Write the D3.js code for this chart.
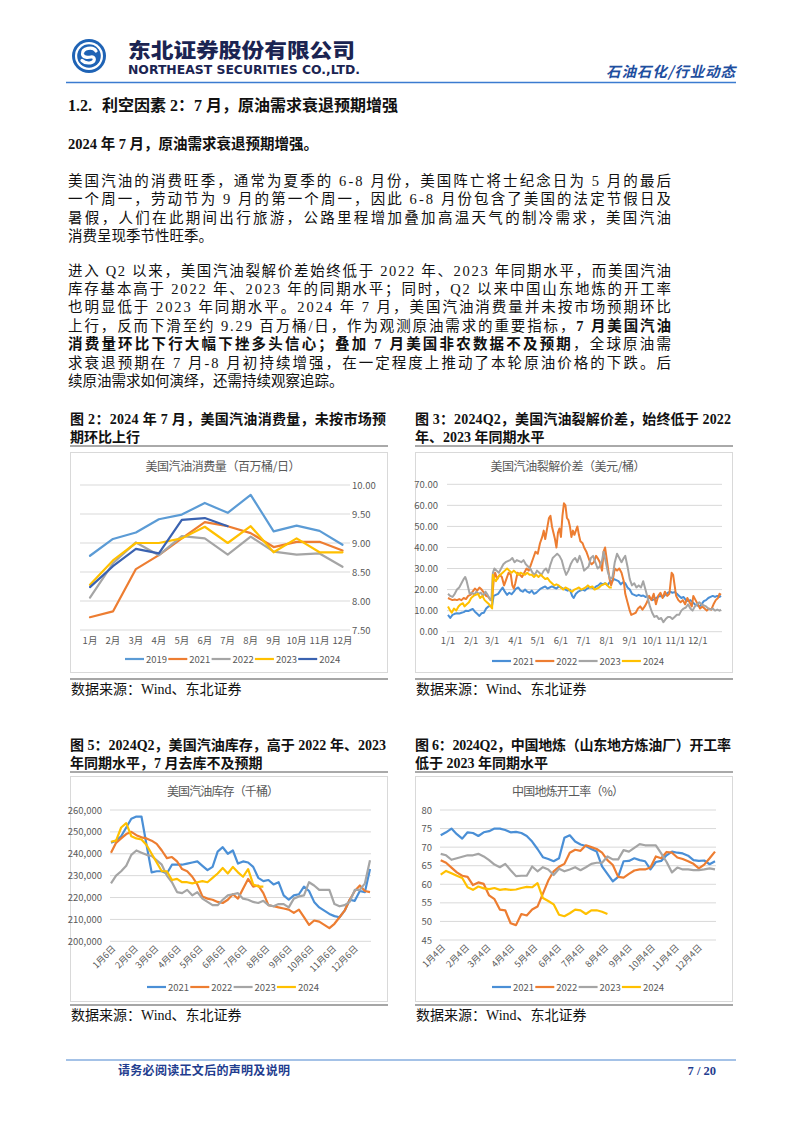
<!DOCTYPE html>
<html><head><meta charset="utf-8"><title>东北证券 - 原油需求</title>
<script src="https://cdn.jsdelivr.net/npm/d3@7/dist/d3.min.js"></script>
<style>html,body{margin:0;padding:0;background:#fff;}svg{display:block;}</style>
</head><body>
<script>
// ---------------- DATA ----------------
// Figure 2: US gasoline consumption (million bbl/day), monthly
const months = ["1月","2月","3月","4月","5月","6月","7月","8月","9月","10月","11月","12月"];
const demandYears = ["2019","2021","2022","2023","2024"];
const demand2019 = [8.78,9.07,9.18,9.41,9.49,9.69,9.52,9.83,9.20,9.30,9.21,8.97];
const demand2021 = [7.72,7.82,8.55,8.79,9.08,9.36,9.29,9.17,8.93,9.02,9.02,8.87];
const demand2022 = [8.06,8.65,9.01,8.79,9.12,9.08,8.80,9.11,8.85,8.80,8.82,8.59];
const demand2023 = [8.28,8.70,9.00,9.00,9.08,9.28,9.00,9.29,8.84,9.08,8.84,8.84];
const demand2024 = [8.24,8.60,8.90,8.82,9.40,9.43,9.29];
const demandTicks = [7.5,8,8.5,9,9.5,10];

// Figure 3: US gasoline crack spread (USD/bbl), [day of year, value]
const crackTickLabels = ["1/1","2/1","3/1","4/1","5/1","6/1","7/1","8/1","9/1","10/1","11/1","12/1"];
const crackTickDays = [0,31,59,90,120,151,181,212,243,273,304,334];
const crackTicks = [0,10,20,30,40,50,60,70];
const crack2021 = [[0,8],[3,6.5],[6,8],[9,8.5],[12,8.8],[15,8.6],[18,9],[21,9.3],[24,10],[27,9.8],[30,10.3],[33,10.8],[36,9.5],[39,8.5],[42,7.5],[45,8.8],[48,9],[51,11],[54,12],[57,12.3],[59,12.5],[61,17],[64,17.5],[67,18],[70,19.5],[73,21],[76,19],[79,17.5],[82,18.5],[85,17.8],[88,19],[91,20.5],[94,21],[97,19.5],[100,19],[103,20],[106,19],[109,18.5],[112,19.5],[115,18],[118,18.5],[121,19.5],[124,20.5],[127,21],[130,21.5],[133,20.5],[136,21],[139,21.5],[142,21],[145,20.5],[148,21.5],[151,21],[154,20.5],[157,20],[160,19.5],[163,20],[166,17],[168,16],[171,18],[174,19],[177,19.5],[180,20],[183,19.5],[186,20.5],[189,21],[192,21],[195,20.5],[198,21.5],[201,22],[204,23],[207,22.5],[210,23],[213,22],[216,23.5],[219,24],[222,25],[225,24.5],[228,24],[231,22.5],[234,23.5],[237,23],[240,21],[243,20],[246,18],[249,17.5],[252,17],[255,17.5],[258,17],[261,17.2],[264,16.5],[267,16.8],[270,16],[273,15],[276,15.5],[279,16.2],[282,16.8],[285,17],[288,16.5],[291,17.8],[294,18.5],[297,19],[300,18.5],[303,18.8],[306,18],[309,17],[312,16],[315,16.5],[318,15],[321,14.5],[324,15],[327,14],[330,13],[333,12.5],[336,12],[339,13],[342,14.5],[345,15],[348,16],[351,16.5],[354,17],[357,16.5],[360,17],[363,16.5],[365,17]];
const crack2022 = [[0,16],[3,15.5],[6,15],[9,15.3],[12,15],[15,15.5],[18,15],[21,16],[24,15.5],[27,17],[30,17.5],[33,19],[36,20.5],[39,19.5],[42,21],[45,20],[48,18.5],[51,17],[54,16.5],[57,15],[59,15.5],[61,24],[63,28],[66,25],[69,27],[72,26],[75,22],[78,25],[81,28],[84,27],[86,22],[88,20.5],[90,23],[93,28],[96,27],[99,26],[102,28],[105,30],[108,29],[111,32],[114,35],[117,38],[120,37],[123,42],[126,45],[128,48],[130,44],[133,50],[135,54],[137,55],[139,50],[141,47],[143,44],[145,40],[147,47],[149,49],[151,45],[153,55],[155,61],[157,60],[159,54],[161,53],[163,50],[165,45],[167,48],[169,46],[171,48],[173,50],[175,46],[177,43],[180,42],[182,40],[185,38],[188,35],[190,33],[192,32],[195,33],[198,36],[200,35],[203,33],[206,29],[208,38],[210,40],[212,35],[214,30],[216,25],[218,22],[220,24],[223,30],[226,29],[229,30],[232,28],[235,24],[237,18],[240,14],[243,10],[245,8],[248,8.5],[251,9],[254,11],[257,12],[260,10.5],[263,12],[266,14],[269,17],[272,15],[275,18],[278,13],[281,17],[284,18.5],[287,16],[290,19],[293,17],[296,18],[299,28],[301,27],[303,22],[305,17],[308,15],[311,14],[314,15],[317,13],[320,16],[323,14],[326,12],[328,17],[331,15],[334,13],[337,11],[340,12],[343,11],[346,10],[349,11],[352,10.5],[355,13],[358,15],[361,16],[363,18],[365,17.5]];
const crack2023 = [[0,18],[3,17],[6,16.5],[9,18],[12,20],[15,21],[18,23],[21,25],[23,26],[25,24],[27,21],[29,18],[32,18.5],[35,17.5],[38,19],[41,18],[44,18.5],[47,17],[50,19],[53,17.5],[56,15.5],[58,15],[60,28],[62,30],[65,29],[68,28],[71,30],[74,32],[77,33],[80,33.5],[83,34],[86,35],[89,33],[92,34],[95,33.5],[98,33],[101,34],[104,32],[107,31],[110,30],[113,28],[116,27],[119,29],[122,28],[125,27],[128,29],[131,30],[134,28],[137,32],[140,35],[143,36],[146,37],[149,36],[152,34],[155,30],[158,27],[161,29],[164,32],[167,34],[170,35],[173,33],[176,36],[179,33],[182,29],[185,30],[188,31],[191,35],[194,36],[197,33],[200,30],[203,31],[206,34],[208,38],[211,33],[214,28],[217,25],[220,26],[223,33],[226,37],[229,35],[232,33],[235,35],[237,36],[240,31],[243,25],[246,22],[249,23],[252,21],[255,22],[258,21],[261,24],[264,20],[267,16],[270,12],[273,9],[276,7],[279,7.5],[282,6],[285,6.5],[288,4.5],[291,6],[294,7],[297,7],[300,6],[303,7],[306,8],[309,8],[312,10],[315,11],[318,11.5],[321,13],[324,11],[327,10],[330,12],[333,13],[336,14],[339,13],[342,12.5],[345,12],[348,11],[351,10.5],[354,11],[357,10],[360,10.5],[363,10],[365,10.5]];
const crack2024 = [[0,12],[3,10],[5,9],[8,11],[11,10],[14,12],[17,13],[20,13.5],[22,12],[25,13],[28,14],[31,16],[34,17],[37,17.5],[40,18],[43,16],[46,17],[49,15],[52,14],[55,13],[57,12],[59,11],[60,27],[62,25],[64,24],[67,26],[70,27],[73,28],[76,29],[79,30],[82,29],[85,28],[88,29],[91,28],[94,27],[97,28],[100,27.5],[103,27],[106,28],[109,27],[112,27],[115,26],[118,27],[121,26],[124,27],[127,26],[130,25],[133,25.5],[136,24],[139,23],[142,22],[145,22.5],[148,22],[151,21],[154,20],[157,21],[160,20.5],[163,19.5],[166,19],[169,20],[172,20.5],[175,21],[178,20],[181,20.5],[184,21],[187,22],[190,21],[193,21.5],[196,20],[199,20.5],[202,21],[205,22],[208,22.5],[211,23],[213,22],[216,21],[219,21]];

// Figure 5: US gasoline inventories (thousand bbl), weekly from 1月6日
const invStartDay = 5;      // Jan 6 (day of year)
const invWeekDays = 7;
const invTickLabels = ["1月6日","2月6日","3月6日","4月6日","5月6日","6月6日","7月6日","8月6日","9月6日","10月6日","11月6日","12月6日"];
const invTicks = [200000,210000,220000,230000,240000,250000,260000];
const inv2021 = [245100,246000,248000,252000,256000,257000,257000,244000,231500,232000,232000,231000,235000,235000,235000,235500,236000,236500,234500,232500,234000,241000,243000,240000,241500,235500,236500,236000,234000,229000,227500,228000,226000,227000,221000,219000,221000,221500,225000,223000,218000,215500,214000,212500,211500,211000,214000,219000,218500,223000,222500,233000];
const inv2022 = [240500,245000,247000,249000,250000,248500,247500,247000,246000,244500,241500,238000,238500,236500,233000,232000,229500,226000,220500,219500,219000,218000,217500,219000,221500,219500,224000,228500,225000,225500,222000,216500,216000,215500,215000,214500,213000,214500,211000,207500,209500,209000,207500,206000,208000,211000,214000,219000,223000,225500,223000,222500];
const inv2023 = [226500,230000,232000,234500,239500,241500,240500,239500,239000,237000,235000,230000,227000,222500,222000,223500,221000,222500,219500,218000,216500,216500,219000,221000,221500,222000,219500,219000,218000,217500,218500,216500,216000,217000,217000,215500,219500,220500,221000,227000,225500,223500,223500,223500,217000,216000,216500,218000,223500,223500,226500,237000];
const inv2024 = [245500,246000,252000,254000,248000,247000,246500,244000,240000,236000,232000,232000,228000,228500,227000,227000,226500,227000,227500,227000,229000,231000,233500,231000,234000,231500,229500,233000,226000,225000,225000];

// Figure 6: China independent refinery (Shandong) utilization (%), weekly from 1月4日
const utilStartDay = 3;     // Jan 4
const utilWeekDays = 7;
const utilTickLabels = ["1月4日","2月4日","3月4日","4月4日","5月4日","6月4日","7月4日","8月4日","9月4日","10月4日","11月4日","12月4日"];
const utilTicks = [45,50,55,60,65,70,75,80];
const util2021 = [73.2,74.0,75.0,73.5,72.3,74.0,73.8,73.0,74.0,74.3,75.0,75.0,74.6,74.0,74.1,73.8,73.0,71.5,69.5,67.3,66.8,66.2,67.0,72.5,73.2,71.5,70.7,70.3,69.5,68.8,64.8,62.8,60.8,62.0,66.2,66.3,67.0,66.5,66.2,64.0,66.0,66.3,67.8,68.8,68.5,68.3,67.7,66.5,66.3,66.4,65.4,66.2];
const util2022 = [66.5,65.8,64.5,63.2,62.3,62.0,59.8,60.5,60.1,57.0,56.0,53.2,53.0,49.5,49.0,52.0,51.6,53.2,54.0,57.5,61.0,63.5,64.7,65.5,68.5,69.3,69.0,70.5,70.0,69.5,68.5,66.5,65.2,62.0,61.8,62.8,63.7,64.0,64.0,64.5,67.5,67.0,68.7,68.5,67.2,66.8,66.2,65.5,64.3,65.3,67.0,68.8];
const util2023 = [68.2,67.8,66.6,67.0,67.4,67.8,67.8,68.2,67.5,66.5,65.3,64.6,65.5,63.8,62.2,62.3,62.3,64.8,63.5,64.6,64.0,62.5,64.2,63.5,64.0,64.6,63.8,64.6,65.5,65.8,65.8,67.5,66.7,66.7,69.2,68.8,69.8,70.8,70.5,70.5,70.5,68.3,66.0,63.2,64.5,64.0,64.0,63.8,63.8,64.0,64.3,64.0];
const util2024 = [62.6,63.6,63.0,62.3,61.7,59.2,58.5,59.4,58.9,58.7,59.0,58.5,58.7,58.5,58.6,59.0,59.3,59.2,60.3,56.3,55.5,54.6,51.8,51.4,52.2,53.2,53.0,52.0,53.0,53.0,52.6,52.0];

const seriesYears4 = ["2021","2022","2023","2024"];

// ---------------- STYLE ----------------
const SERIF = "'Liberation Serif','Times New Roman','Noto Sans CJK SC',serif";
const SANS = "'Noto Sans CJK SC','Liberation Sans',sans-serif";
const AXTXT = "#595959";
const GRID = "#d9d9d9";
const COL = {"2019":"#5b9bd5","2021":"#ed7d31","2022":"#a5a5a5","2023":"#ffc000","2024":"#3a62b0"};
const COL4 = {"2021":"#4a8fd6","2022":"#ed7d31","2023":"#a5a5a5","2024":"#ffc000"};

const svg = d3.select("body").append("svg").attr("width",802).attr("height",1133).attr("viewBox","0 0 802 1133");
svg.append("rect").attr("width",802).attr("height",1133).attr("fill","#fff");

function line(g, x, y, segs, opts) {
  opts = opts || {};
  const t = g.append("text").attr("x",x).attr("y",y)
    .attr("font-family",opts.family||SERIF).attr("font-size",opts.size||14.5)
    .attr("fill",opts.fill||"#111").attr("font-weight",opts.weight||"normal");
  if (opts.anchor) t.attr("text-anchor",opts.anchor);
  if (opts.len) t.attr("textLength",opts.len).attr("lengthAdjust",opts.adjust||"spacing");
  if (typeof segs === "string") { t.text(segs); }
  else segs.forEach(s => t.append("tspan").attr("font-weight",s.b?"bold":"normal").text(s.t));
  return t;
}

// ---------------- HEADER ----------------
const logo = svg.append("g").attr("transform","translate(89,56)");
logo.append("circle").attr("r",17).attr("fill","#1f63b5");
logo.append("circle").attr("r",14).attr("fill","#fff");
logo.append("circle").attr("r",11.8).attr("fill","#1f63b5");
logo.append("path").attr("d","M7,-5 C4,-10 -7,-8 -6.5,-2 C-6,2 -1,1.5 2,1 C6.5,0.5 6.5,6 1.5,6.8 C-2,7.4 -5,6.5 -7,4.5")
  .attr("fill","none").attr("stroke","#fff").attr("stroke-width",3.2).attr("stroke-linecap","round");
line(svg,128,57.5,"东北证券股份有限公司",{family:SANS,weight:900,size:20,fill:"#1b2452",len:227,adjust:"spacingAndGlyphs"});
line(svg,128,74,"NORTHEAST SECURITIES CO.,LTD.",{family:"'DejaVu Sans',sans-serif",weight:"bold",size:11.5,fill:"#1b2452",len:232,adjust:"spacingAndGlyphs"});
line(svg,606,77,"石油石化/行业动态",{family:SANS,weight:"bold",size:14.5,fill:"#1f4f9f",len:129}).attr("font-style","italic");
svg.append("line").attr("x1",66).attr("x2",736).attr("y1",82.5).attr("y2",82.5).attr("stroke","#3b7bd0").attr("stroke-width",1.4);

// ---------------- BODY TEXT ----------------
line(svg,68,111,"1.2.",{weight:"bold",size:16});
line(svg,102,111,"利空因素 2：7 月，原油需求衰退预期增强",{weight:"bold",size:16});
line(svg,68,149,"2024 年 7 月，原油需求衰退预期增强。",{weight:"bold"});
const JW = 603;
const p1 = [
  ["美国汽油的消费旺季，通常为夏季的 6-8 月份，美国阵亡将士纪念日为 5 月的最后", true],
  ["一个周一，劳动节为 9 月的第一个周一，因此 6-8 月份包含了美国的法定节假日及", true],
  ["暑假，人们在此期间出行旅游，公路里程增加叠加高温天气的制冷需求，美国汽油", true],
  ["消费呈现季节性旺季。", false]];
p1.forEach((l,i) => line(svg,68,185.5+i*18.6,l[0],l[1]?{len:JW}:{}));
const p2 = [
  [[{t:"进入 Q2 以来，美国汽油裂解价差始终低于 2022 年、2023 年同期水平，而美国汽油"}], true],
  [[{t:"库存基本高于 2022 年、2023 年的同期水平；同时，Q2 以来中国山东地炼的开工率"}], true],
  [[{t:"也明显低于 2023 年同期水平。2024 年 7 月，美国汽油消费量并未按市场预期环比"}], true],
  [[{t:"上行，反而下滑至约 9.29 百万桶/日，作为观测原油需求的重要指标，"},{t:"7 月美国汽油",b:true}], true],
  [[{t:"消费量环比下行大幅下挫多头信心；叠加 7 月美国非农数据不及预期",b:true},{t:"，全球原油需"}], true],
  [[{t:"求衰退预期在 7 月-8 月初持续增强，在一定程度上推动了本轮原油价格的下跌。后"}], true],
  [[{t:"续原油需求如何演绎，还需持续观察追踪。"}], false]];
p2.forEach((l,i) => line(svg,68,275.5+i*18.45,l[0],l[1]?{len:JW}:{}));

// ---------------- FIGURE FRAMES ----------------
function figure(x0, yCap, cap1, cap2, boxTop, boxBot, srcLineY) {
  const g = svg.append("g");
  line(g,x0,yCap,cap1,{weight:"bold",size:14,len:316});
  line(g,x0,yCap+17.5,cap2,{weight:"bold",size:14});
  g.append("line").attr("x1",x0).attr("x2",x0+318).attr("y1",yCap+22).attr("y2",yCap+22).attr("stroke","#555").attr("stroke-width",1);
  g.append("rect").attr("x",x0+0.5).attr("y",boxTop+0.5).attr("width",317).attr("height",boxBot-boxTop).attr("fill","#fff").attr("stroke","#d9d9d9");
  g.append("line").attr("x1",x0).attr("x2",x0+318).attr("y1",srcLineY).attr("y2",srcLineY).attr("stroke","#a6a6a6").attr("stroke-width",2);
  line(g,x0+1,srcLineY+14.5,"数据来源：Wind、东北证券",{size:14});
  return g;
}
function chartTitle(g, cx, y, str, len) {
  line(g,cx,y,str,{family:SANS,size:12,fill:AXTXT,anchor:"middle",len:len});
}
function legend(g, keys, cols, x0, y, step) {
  keys.forEach((k,i) => {
    const x = x0 + i*step;
    g.append("line").attr("x1",x).attr("x2",x+19).attr("y1",y).attr("y2",y).attr("stroke",cols[k]).attr("stroke-width",2.2);
    line(g,x+21,y+3.5,k,{family:SANS,size:9.5,fill:AXTXT});
  });
}

// ---------------- FIGURE 2 ----------------
{
  const g = figure(70,424,"图 2：2024 年 7 月，美国汽油消费量，未按市场预","期环比上行",452,672,679);
  chartTitle(g,223,471,"美国汽油消费量（百万桶/日）",155);
  const x = d3.scalePoint().domain(months).range([90,342.5]);
  const y = d3.scaleLinear().domain([7.5,10]).range([630,485]);
  demandTicks.forEach(t => {
    g.append("line").attr("x1",80).attr("x2",350).attr("y1",y(t)).attr("y2",y(t)).attr("stroke",GRID).attr("stroke-width",1);
    line(g,352,y(t)+3.5,d3.format(".2f")(t),{family:SANS,size:9.5,fill:AXTXT});
  });
  months.forEach(m => line(g,x(m),644,m,{family:SANS,size:9.5,fill:AXTXT,anchor:"middle"}));
  const data = {"2019":demand2019,"2021":demand2021,"2022":demand2022,"2023":demand2023,"2024":demand2024};
  const lg = d3.line().x((d,i)=>x(months[i])).y(d=>y(d));
  demandYears.forEach(k => g.append("path").attr("d",lg(data[k])).attr("fill","none").attr("stroke",COL[k]).attr("stroke-width",2.2).attr("stroke-linejoin","round").attr("stroke-linecap","round"));
  legend(g,demandYears,COL,125,659,43.3);
}

// ---------------- FIGURE 3 ----------------
{
  const g = figure(415,424,"图 3：2024Q2，美国汽油裂解价差，始终低于 2022","年、2023 年同期水平",452,672,679);
  chartTitle(g,568,471,"美国汽油裂解价差（美元/桶）",155);
  const x = d3.scaleLinear().domain([0,365]).range([448,721]);
  const y = d3.scaleLinear().domain([0,70]).range([631.7,484.3]);
  crackTicks.forEach(t => {
    g.append("line").attr("x1",447).attr("x2",722).attr("y1",y(t)).attr("y2",y(t)).attr("stroke",GRID).attr("stroke-width",1);
    line(g,438,y(t)+3.5,d3.format(".2f")(t),{family:SANS,size:9.5,fill:AXTXT,anchor:"end"});
  });
  crackTickDays.forEach((d,i) => line(g,x(d),644,crackTickLabels[i],{family:SANS,size:9.5,fill:AXTXT,anchor:"middle"}));
  const data = {"2021":crack2021,"2022":crack2022,"2023":crack2023,"2024":crack2024};
  const lg = d3.line().x(d=>x(d[0])).y(d=>y(d[1]));
  seriesYears4.forEach(k => g.append("path").attr("d",lg(data[k])).attr("fill","none").attr("stroke",COL4[k]).attr("stroke-width",2).attr("stroke-linejoin","round"));
  legend(g,seriesYears4,COL4,492,661,43.3);
}

// ---------------- FIGURE 5 ----------------
{
  const g = figure(70,750,"图 5：2024Q2，美国汽油库存，高于 2022 年、2023","年同期水平，7 月去库不及预期",776,1001,1005);
  chartTitle(g,223,796,"美国汽油库存（千桶）",112);
  const x = d3.scaleLinear().domain([invStartDay, invStartDay+51*invWeekDays]).range([111,370]);
  const y = d3.scaleLinear().domain([200000,260000]).range([941.3,810]);
  invTicks.forEach(t => {
    g.append("line").attr("x1",110).attr("x2",371).attr("y1",y(t)).attr("y2",y(t)).attr("stroke",GRID).attr("stroke-width",1);
    line(g,102,y(t)+3.5,d3.format(",")(t),{family:SANS,size:9.5,fill:AXTXT,anchor:"end"});
  });
  const base = new Date(2021,0,1);
  invTickLabels.forEach((lab,i) => {
    const d = d3.timeDay.count(base,new Date(2021,i,6));
    g.append("text").attr("transform",`translate(${x(d)+3},${947}) rotate(-45)`).attr("text-anchor","end")
      .attr("font-family",SANS).attr("font-size",9).attr("fill",AXTXT).attr("dy","0.35em").text(lab);
  });
  const data = {"2021":inv2021,"2022":inv2022,"2023":inv2023,"2024":inv2024};
  const lg = d3.line().x((d,i)=>x(invStartDay+i*invWeekDays)).y(d=>y(d));
  seriesYears4.forEach(k => g.append("path").attr("d",lg(data[k])).attr("fill","none").attr("stroke",COL4[k]).attr("stroke-width",2.2).attr("stroke-linejoin","round"));
  legend(g,seriesYears4,COL4,147,987,43.3);
}

// ---------------- FIGURE 6 ----------------
{
  const g = figure(415,750,"图 6：2024Q2，中国地炼（山东地方炼油厂）开工率","低于 2023 年同期水平",776,1001,1005);
  chartTitle(g,568,796,"中国地炼开工率（%）",112);
  const x = d3.scaleLinear().domain([utilStartDay, utilStartDay+51*utilWeekDays]).range([440.7,715]);
  const y = d3.scaleLinear().domain([45,80]).range([940,810]);
  utilTicks.forEach(t => {
    g.append("line").attr("x1",440).attr("x2",716).attr("y1",y(t)).attr("y2",y(t)).attr("stroke",GRID).attr("stroke-width",1);
    line(g,432,y(t)+3.5,String(t),{family:SANS,size:9.5,fill:AXTXT,anchor:"end"});
  });
  const base = new Date(2021,0,1);
  utilTickLabels.forEach((lab,i) => {
    const d = d3.timeDay.count(base,new Date(2021,i,4));
    g.append("text").attr("transform",`translate(${x(d)+3},${946}) rotate(-45)`).attr("text-anchor","end")
      .attr("font-family",SANS).attr("font-size",9).attr("fill",AXTXT).attr("dy","0.35em").text(lab);
  });
  const data = {"2021":util2021,"2022":util2022,"2023":util2023,"2024":util2024};
  const lg = d3.line().x((d,i)=>x(utilStartDay+i*utilWeekDays)).y(d=>y(d));
  seriesYears4.forEach(k => g.append("path").attr("d",lg(data[k])).attr("fill","none").attr("stroke",COL4[k]).attr("stroke-width",2.2).attr("stroke-linejoin","round"));
  legend(g,seriesYears4,COL4,492,987,43.3);
}

// ---------------- FOOTER ----------------
svg.append("line").attr("x1",66).attr("x2",736).attr("y1",1060).attr("y2",1060).attr("stroke","#4a86cf").attr("stroke-width",1.2);
line(svg,118,1075,"请务必阅读正文后的声明及说明",{weight:"bold",size:12,fill:"#1f3d8f",len:172});
line(svg,716,1075,"7 / 20",{weight:"bold",size:12.5,fill:"#1f3d8f",anchor:"end"});
</script>
</body></html>
